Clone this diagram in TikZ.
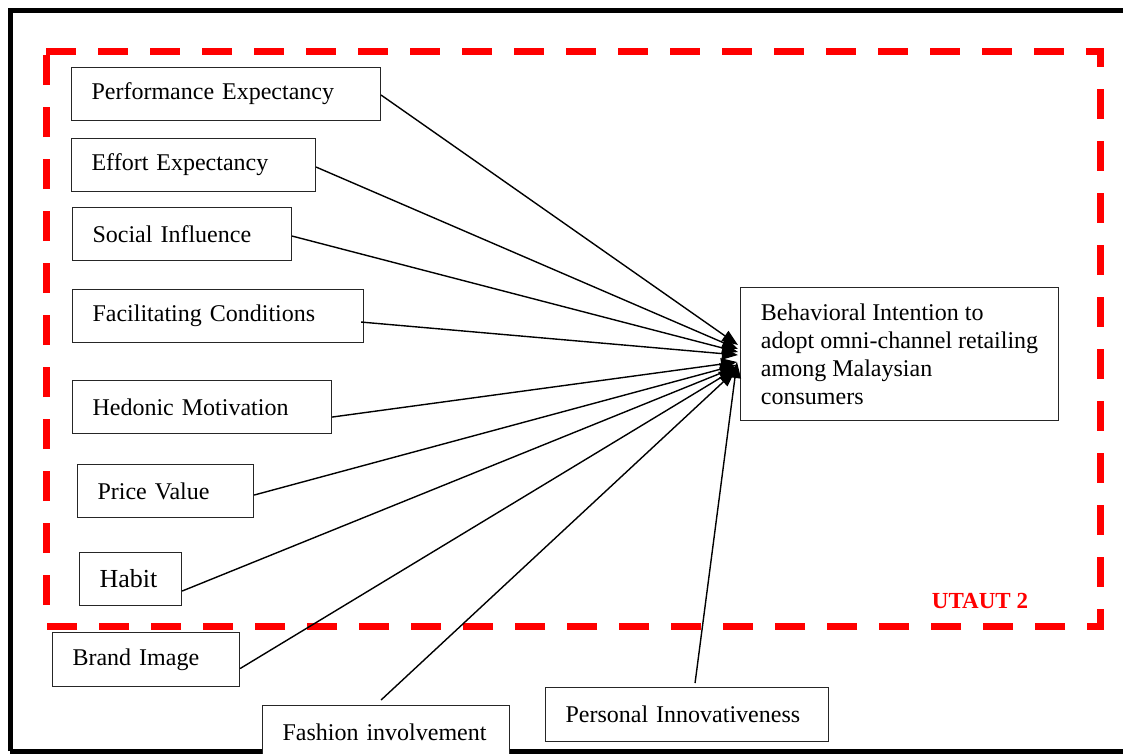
\documentclass[tikz,border=0pt]{standalone}
\usepackage{fontspec}
\setmainfont{Liberation Serif}
\usetikzlibrary{arrows.meta}
\begin{document}
\begin{tikzpicture}[x=1pt,y=-1pt,
  box/.style={draw=black!85, line width=1.1pt, fill=white, anchor=north west,
    inner xsep=20pt, inner ysep=0pt, align=left, font=\fontsize{24}{28}\selectfont},
  conn/.style={line width=1.4pt, -{Triangle[length=16pt,width=12pt]}},
  plain/.style={line width=1.4pt}]
\useasboundingbox (0,0) rectangle (1123,753);
\fill[white] (0,0) rectangle (1123,753);
% outer frame
\draw[line width=5pt] (10,751) -- (10,10) -- (1140,10);
\draw[line width=5pt] (10,751) -- (1140,751);
% UTAUT 2 dashed area
\draw[red, line width=7pt, dash pattern=on 30pt off 22pt] (46,51) -- (1100,51) -- (1100,626) -- (46,626) -- cycle;
\node[red, font=\fontsize{23}{28}\selectfont\bfseries, anchor=center] (ut) at (980,601) {UTAUT 2};
% nodes
\node[box, minimum width=309pt, minimum height=53pt, text width=269pt] (pe) at (71,67) {Performance Expectancy};
\node[box, minimum width=244pt, minimum height=53pt, text width=204pt] (ee) at (71,138) {Effort Expectancy};
\node[box, minimum width=219pt, minimum height=53pt, text width=179pt] (si) at (72,207) {Social Influence};
\node[box, minimum width=291pt, minimum height=53pt, text width=251pt] (fc) at (72,289) {Facilitating Conditions};
\node[box, minimum width=259pt, minimum height=53pt, text width=219pt] (hm) at (72,380) {Hedonic Motivation};
\node[box, minimum width=176pt, minimum height=53pt, text width=136pt] (pv) at (77,464) {Price Value};
\node[box, minimum width=102pt, minimum height=53pt, text width=62pt, font=\fontsize{26}{30}\selectfont] (ha) at (79,552) {Habit};
\node[box, minimum width=187pt, minimum height=54pt, text width=147pt] (bm) at (52,632) {Brand Image};
\node[box, minimum width=247pt, minimum height=54pt, text width=207pt] (fi) at (262,705) {Fashion involvement};
\node[box, minimum width=283pt, minimum height=54pt, text width=243pt] (pi) at (545,687) {Personal Innovativeness};
\node[box, minimum width=318pt, minimum height=133pt, inner xsep=19pt] (bi) at (740,287)
  {Behavioral Intention to\\adopt omni-channel retailing\\among Malaysian\\consumers};
% connector ends
\coordinate (t1) at (738,345);
\coordinate (t2) at (738,349);
\coordinate (t3) at (738,352);
\coordinate (t4) at (738,355);
\coordinate (t5) at (737,362);
\coordinate (t6) at (736,365);
\coordinate (t7) at (736,367);
\coordinate (t8) at (735,369);
\coordinate (t9) at (735,371);
\coordinate (t10) at (737,362);
% connectors
\draw[conn] ([yshift=-1pt]pe.east) -- (t1);
\draw[conn] ([yshift=-2pt]ee.east) -- (t2);
\draw[conn] ([yshift=-2pt]si.east) -- (t3);
\draw[conn] ([xshift=-3pt,yshift=-6pt]fc.east) -- (t4);
\draw[conn] ([yshift=-10pt]hm.east) -- (t5);
\draw[conn] ([yshift=-4pt]pv.east) -- (t6);
\draw[conn] ([yshift=-12pt]ha.east) -- (t7);
\draw[conn] ([yshift=-9pt]bm.east) -- (t8);
\draw[conn] ([xshift=-5pt,yshift=5pt]fi.north) -- (t9);
\draw[conn] ([xshift=8pt,yshift=4pt]pi.north) -- (t10);
\end{tikzpicture}
\end{document}
